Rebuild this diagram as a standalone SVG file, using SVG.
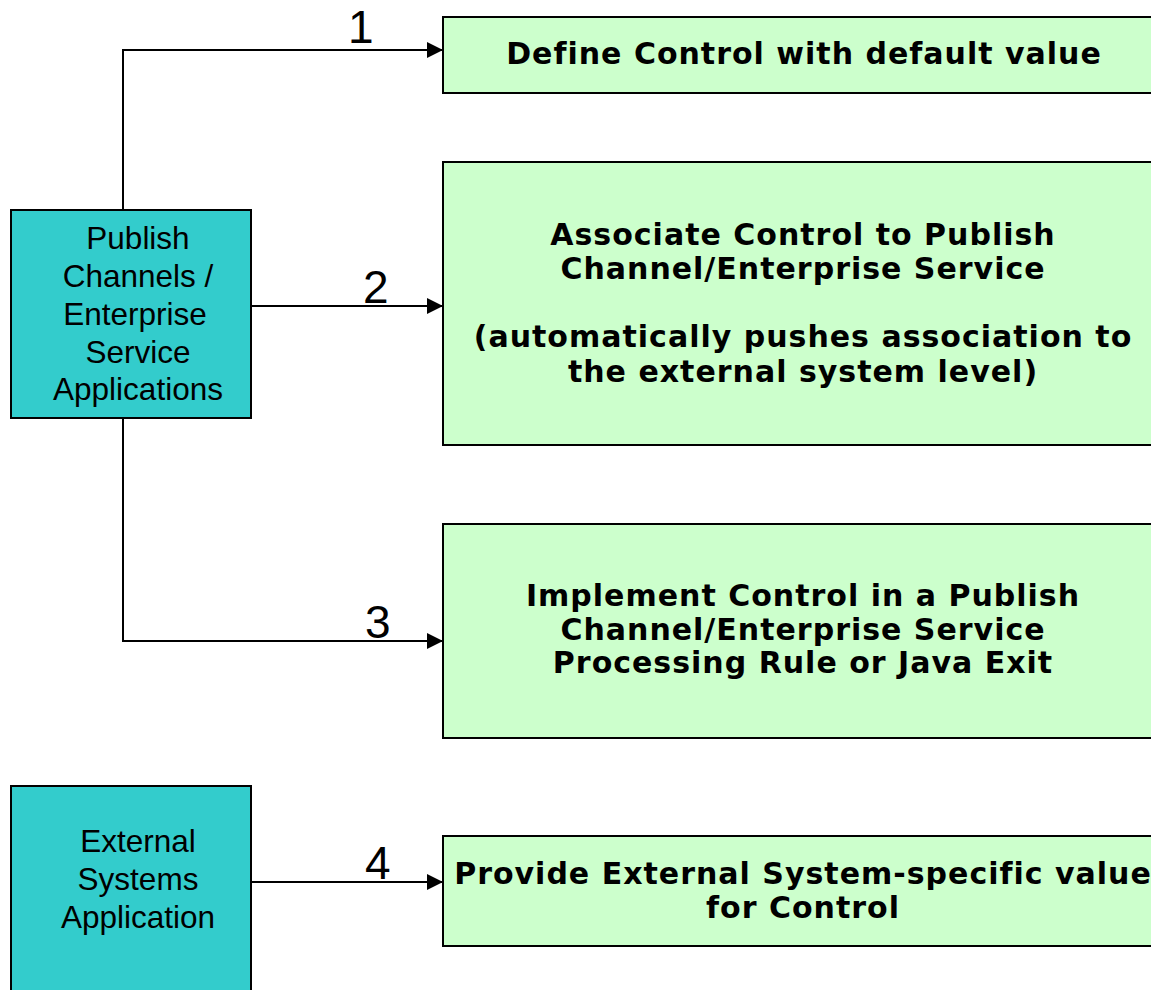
<svg xmlns="http://www.w3.org/2000/svg" width="1151" height="990" viewBox="0 0 1151 990">
  <defs>
    <marker id="arr" markerWidth="16" markerHeight="16" refX="16" refY="8" orient="auto" markerUnits="userSpaceOnUse">
      <path d="M0,0 L16,8 L0,16 Z" fill="#000"/>
    </marker>
    <style>
      .src { fill: #33CCCC; stroke: #000; stroke-width: 2; }
      .step { fill: #CCFFCC; stroke: #000; stroke-width: 2; }
      .srct { font-family: "Liberation Sans", Arial, sans-serif; font-size: 31.5px; fill: #000; text-anchor: middle; }
      .stept { font-family: "DejaVu Sans", Verdana, sans-serif; font-weight: bold; font-size: 30px; letter-spacing: 1px; fill: #000; text-anchor: middle; }
      .num { font-family: "Liberation Sans", Arial, sans-serif; font-size: 46px; fill: #000; }
      .conn { fill: none; stroke: #000; stroke-width: 2; }
    </style>
  </defs>
  <rect width="1151" height="990" fill="#fff"/>

  <g id="connectors">
    <polyline class="conn" points="123,210 123,50 443,50" marker-end="url(#arr)"/>
    <line class="conn" x1="251" y1="306" x2="443" y2="306" marker-end="url(#arr)"/>
    <polyline class="conn" points="123,418 123,641 443,641" marker-end="url(#arr)"/>
    <line class="conn" x1="251" y1="882" x2="443" y2="882" marker-end="url(#arr)"/>
    <text class="num" x="348" y="43">1</text>
    <text class="num" x="363" y="303">2</text>
    <text class="num" x="365" y="638">3</text>
    <text class="num" x="365" y="879">4</text>
  </g>

  <g id="publish-channels">
    <rect class="src" x="11" y="210" width="240" height="208"/>
    <text class="srct" x="138" y="249">Publish</text>
    <text class="srct" x="138" y="287">Channels /</text>
    <text class="srct" x="135" y="325">Enterprise</text>
    <text class="srct" x="138" y="363">Service</text>
    <text class="srct" x="138" y="400">Applications</text>
  </g>

  <g id="external-systems">
    <rect class="src" x="11" y="786" width="240" height="220"/>
    <text class="srct" x="138" y="852">External</text>
    <text class="srct" x="138" y="890">Systems</text>
    <text class="srct" x="138" y="928">Application</text>
  </g>

  <g id="step1">
    <rect class="step" x="443" y="17" width="720" height="76"/>
    <text class="stept" x="804" y="64">Define Control with default value</text>
  </g>

  <g id="step2">
    <rect class="step" x="443" y="162" width="720" height="283"/>
    <text class="stept" x="803" y="245">Associate Control to Publish</text>
    <text class="stept" x="803" y="279">Channel/Enterprise Service</text>
    <text class="stept" x="803" y="347">(automatically pushes association to</text>
    <text class="stept" x="803" y="382">the external system level)</text>
  </g>

  <g id="step3">
    <rect class="step" x="443" y="524" width="720" height="214"/>
    <text class="stept" x="803" y="606">Implement Control in a Publish</text>
    <text class="stept" x="803" y="640">Channel/Enterprise Service</text>
    <text class="stept" x="803" y="673">Processing Rule or Java Exit</text>
  </g>

  <g id="step4">
    <rect class="step" x="443" y="836" width="720" height="110"/>
    <text class="stept" x="803" y="884">Provide External System-specific value</text>
    <text class="stept" x="803" y="918">for Control</text>
  </g>
</svg>
